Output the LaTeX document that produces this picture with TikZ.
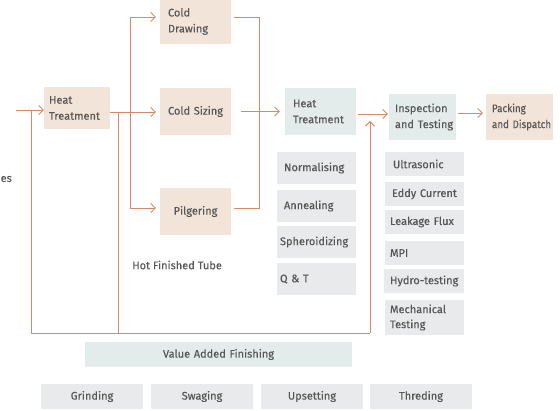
\documentclass[tikz,border=0pt]{standalone}
\usepackage{fontspec}
\setmainfont{Fira Sans}[FakeBold=0.3]
\usetikzlibrary{arrows.meta}
\definecolor{ln}{HTML}{D38B66}
\definecolor{beige}{HTML}{F3E4DA}
\definecolor{tealf}{HTML}{E4ECEB}
\definecolor{gry}{HTML}{E9EAEB}
\definecolor{txt}{HTML}{575757}
\begin{document}
\begin{tikzpicture}[x=1pt,y=-1pt,
  every node/.style={text=txt, font=\fontsize{11}{16}\selectfont},
  box/.style={inner ysep=0pt, align=left},
  cbox/.style={inner ysep=0pt, inner xsep=0pt, align=center},
  wire/.style={draw=ln, line width=0.9pt},
  arr/.style={wire, -{Straight Barb[length=4.5pt,width=9pt]}}]
\useasboundingbox (0,0) rectangle (560,411);
% main flow boxes
\node[box, fill=beige, minimum height=42, inner xsep=5, text width=56] (ht1) at (77,108) {Heat\\Treatment};
\node[box, fill=beige, minimum height=45, inner xsep=8, text width=55] (cd) at (195.5,21.5) {Cold\\Drawing};
\node[cbox, fill=beige, minimum height=47, text width=71] (cs) at (195.5,111.5) {Cold Sizing};
\node[cbox, fill=beige, minimum height=47, text width=71] (pg) at (195.5,211.5) {Pilgering};
\node[box, fill=tealf, minimum height=47, inner xsep=8, text width=55] (ht2) at (320.5,111.5) {Heat\\Treatment};
\node[box, fill=tealf, minimum height=46, inner xsep=6, text width=55] (insp) at (422.5,117) {Inspection\\\mbox{and Testing}};
\node[box, fill=beige, minimum height=46, inner xsep=6, text width=55, font=\fontsize{11}{16}\selectfont\addfontfeature{FakeStretch=0.89}] (pack) at (519.5,117) {Packing\\\mbox{and Dispatch}};
\node[anchor=west, inner sep=0pt] (hft) at (132,265) {Hot Finished Tube};
\node[anchor=east, inner sep=0pt] (es) at (12,179) {es};
% heat treatment list
\node[box, fill=gry, minimum height=32, inner xsep=7, text width=65] (norm) at (316.5,168) {Normalising};
\node[box, fill=gry, minimum height=32, inner xsep=7, text width=65] (ann) at (316.5,206) {Annealing};
\node[box, fill=gry, minimum height=32, inner xsep=3, text width=73] (sph) at (316.5,242) {Spheroidizing};
\node[box, fill=gry, minimum height=32, inner xsep=3, text width=73] (qt) at (316.5,279) {Q \& T};
% inspection list
\node[box, fill=gry, minimum height=24, inner xsep=8, text width=63] (ultra) at (424.5,164) {Ultrasonic};
\node[box, fill=gry, minimum height=24, inner xsep=7, text width=65] (eddy) at (424.5,194) {\mbox{Eddy Current}};
\node[box, fill=gry, minimum height=24, inner xsep=5, text width=69] (leak) at (424.5,222) {\mbox{Leakage Flux}};
\node[box, fill=gry, minimum height=24, inner xsep=5, text width=69] (mpi) at (424.5,253) {MPI};
\node[box, fill=gry, minimum height=24, inner xsep=6, text width=68] (hydro) at (424,281) {\mbox{Hydro-testing}};
\node[box, fill=gry, minimum height=35, inner xsep=5, text width=69, font=\fontsize{11}{15}\selectfont] (mech) at (424.5,317.5) {Mechanical\\Testing};
% value added
\node[cbox, fill=tealf, minimum height=25, text width=267] (vaf) at (218.5,354.5) {Value Added Finishing};
\node[cbox, fill=gry, minimum height=25, text width=102] (grind) at (92,396.5) {Grinding};
\node[cbox, fill=gry, minimum height=25, text width=102] (swag) at (202,396.5) {Swaging};
\node[cbox, fill=gry, minimum height=25, text width=102] (ups) at (312,396.5) {Upsetting};
\node[cbox, fill=gry, minimum height=25, text width=102] (thr) at (421,396.5) {Threding};
% coordinates
\coordinate (src) at (16,110);
\coordinate (jA) at (31,110);
\coordinate (bA) at (31,333);
\coordinate (jB) at (118,112);
\coordinate (bB) at (118,333);
\coordinate (bC) at (370,333);
\coordinate (upT) at (370,121);
\coordinate (brT) at (130,17);
\coordinate (brB) at (130,208);
\coordinate (mT) at (259,17);
\coordinate (mB) at (259,208);
\coordinate (hA) at (358,114);
\coordinate (iA) at (458,113);
% connectors
\draw[arr] (src) -- (ht1.west |- src);
\draw[wire] (jA) -- (bA) -- (bC);
\draw[arr] (bC) -- (upT);
\draw[wire] (jB) -- (bB);
\draw[arr, shorten >=4pt] (ht1.east |- jB) -- (cs.west |- jB);
\draw[wire] (brT) -- (brB);
\draw[arr, shorten >=4pt] (brT) -- (cd.west |- brT);
\draw[arr, shorten >=4pt] (brB) -- (pg.west |- brB);
\draw[wire, line join=miter] (cd.east |- mT) ++(3,0) -- (mT) -- (mB) -- ([xshift=3pt]pg.east |- mB);
\draw[arr, shorten <=10pt, shorten >=5pt] (cs.east) -- (ht2.west);
\draw[arr, shorten >=1pt] (hA) -- (insp.west |- hA);
\draw[arr, shorten >=3pt] (iA) -- (pack.west |- iA);
\end{tikzpicture}
\end{document}
